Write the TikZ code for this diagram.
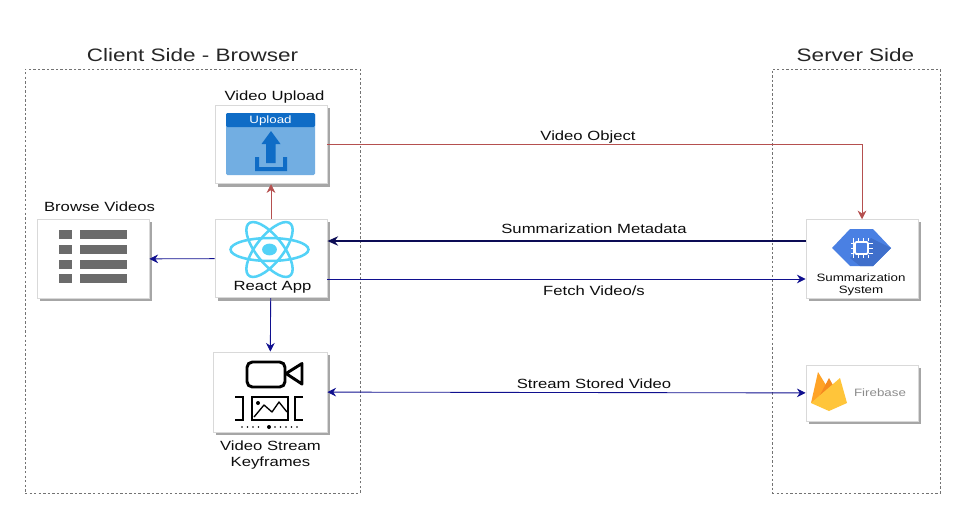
\documentclass[tikz,border=0pt]{standalone}
\usepackage{fontspec}
\setmainfont[FakeStretch=1.25]{Liberation Sans}
\usetikzlibrary{shadows,arrows.meta,calc}

\definecolor{redline}{HTML}{B5504F}
\definecolor{blueline}{HTML}{10108F}
\definecolor{darkline}{HTML}{0C0C55}
\definecolor{reactblue}{HTML}{53D2F7}
\definecolor{uploaddark}{HTML}{0F6CC6}
\definecolor{uploadlight}{HTML}{72AEE2}
\definecolor{hexblue}{HTML}{4A80E3}
\definecolor{hexdark}{HTML}{3F6FCB}
\definecolor{flameyellow}{HTML}{FFC53A}
\definecolor{flameamber}{HTML}{FFA326}
\definecolor{flameorange}{HTML}{F58A1F}

\tikzset{
  tile/.style={draw=black!15,fill=white,line width=.6pt,inner sep=0pt,
    drop shadow={shadow xshift=2pt,shadow yshift=-2pt,fill=black!35,opacity=1}},
  region/.style={draw=black!55,dash pattern=on 1.8pt off 1.6pt,line width=.5pt,inner sep=0pt},
  heading/.style={font=\fontsize{13.5}{15}\selectfont,text=black!85,inner sep=0pt},
  caption/.style={font=\fontsize{10}{12}\selectfont,text=black!95,inner sep=0pt,align=center},
  flowred/.style={draw=redline,line width=.55pt,-{Stealth[length=6.5pt,width=6.5pt]}},
  flowblue/.style={draw=blueline,line width=.65pt,-{Stealth[length=6.5pt,width=6.5pt]}},
  flowdark/.style={draw=darkline,line width=1.3pt,-{Stealth[length=8pt,width=7pt]}},
  iconline/.style={draw=black,line width=2.2pt,line join=round},
}

\begin{document}
\begin{tikzpicture}[x=.75pt,y=-.75pt]
\useasboundingbox (0,0) rectangle (973,519);

\draw (192.5,281) node(CLIENT)[region,minimum width=251.25pt,minimum height=318pt]{ };
\draw (856,281) node(SERVER)[region,minimum width=126pt,minimum height=318pt]{ };
\draw (192.5,55.5) node(CLIENTTXT)[heading]{Client Side - Browser};
\draw (855.5,55.5) node(SERVERTXT)[heading]{Server Side};

\draw (271,144.5) node(UPLOAD)[tile,minimum width=84pt,minimum height=59pt]{ };
\draw (271,258.5) node(REACT)[tile,minimum width=84pt,minimum height=59pt]{ };
\draw (270,392) node(FRAMES)[tile,minimum width=85.5pt,minimum height=60pt]{ };
\draw (93,259) node(BROWSE)[tile,minimum width=84pt,minimum height=59pt]{ };
\draw (862,259) node(SUMM)[tile,minimum width=84pt,minimum height=59pt]{ };
\draw (862,393) node(FIRE)[tile,minimum width=84pt,minimum height=42pt]{ };

\draw (274.5,97.5) node(UPLOADTXT)[caption]{Video Upload};
\draw (99.5,206.5) node(BROWSETXT)[caption]{Browse Videos};
\draw (272.5,287.5) node(REACTTXT)[caption]{React App};
\draw (270.5,455.5) node(FRAMESTXT)[caption]{Video Stream\\Keyframes};
\draw (861,284.5) node(SUMMTXT)[caption,font=\fontsize{8}{9}\selectfont]{Summarization\\System};
\draw (880,392.5) node(FIRETXT)[caption,font=\fontsize{8}{10}\selectfont,text=black!45]{Firebase};

% upload icon
\fill[uploadlight,rounded corners=1pt] (226,113) rectangle (315,175);
\fill[uploaddark,rounded corners=1pt] (226,113) rectangle (315,127);
\draw (270.5,120.5) node(UPLOADBTN)[font=\fontsize{8}{10}\selectfont,text=white,inner sep=0pt]{Upload};
\fill[uploaddark] (271,131) -- (280.5,144) -- (275.5,144) -- (275.5,163) -- (266,163) -- (266,144) -- (261.5,144) -- cycle;
\fill[uploaddark] (255,157) -- (259,157) -- (259,167) -- (283,167) -- (283,157) -- (287,157) -- (287,171) -- (255,171) -- cycle;

% react icon
\begin{scope}[shift={(269.5,249.5)},xscale=39,yscale=31]
\foreach \ang in {0,60,120}
  \draw[reactblue,line width=1.9pt,rotate=\ang] (0,0) ellipse [x radius=1,y radius=.37];
\fill[reactblue] (0,0) ellipse [x radius=.19,y radius=.19];
\end{scope}

% list icon
\foreach \rowy in {234,249,264,278} {
  \fill[black!58] (59,\rowy-4.5) rectangle (72,\rowy+4.5);
  \fill[black!58] (80,\rowy-4.5) rectangle (127,\rowy+4.5);
}

% camera and keyframes icon
\draw[iconline,rounded corners=4pt] (247,362) rectangle (285,387);
\draw[iconline] (286,373.5) -- (302,363.5) -- (302,384) -- cycle;
\draw[draw=black,line width=1pt] (252,397) rectangle (288,420);
\draw[draw=black,line width=1pt,line join=round] (254,417) -- (264,405) -- (272,412) -- (279,402) -- (287,412);
\fill (258,403) circle [radius=2];
\draw[draw=black,line width=1.2pt] (235,397) -- (243,397) -- (243,420) -- (235,420);
\draw[draw=black,line width=1.2pt] (303,397) -- (295,397) -- (295,420) -- (303,420);
\foreach \dotx in {242,247.5,253,258.5,275,280.5,286,291.5,297}
  \fill (\dotx,427) circle [radius=.8];
\fill (269,427) circle [radius=2];

% hexagon icon
\fill[hexblue] (832,248) -- (850,229) -- (873,229) -- (891,248) -- (873,266) -- (850,266) -- cycle;
\fill[hexdark] (871,238) -- (891,248) -- (873,266) -- (860,266) -- (850,258) -- cycle;
\foreach \pinx in {853,858,863,868} {
  \draw[white,line width=.7pt] (\pinx+.5,238) -- (\pinx+.5,258);
}
\foreach \piny in {243,248,253} {
  \draw[white,line width=.7pt] (851,\piny) -- (873,\piny);
}
\fill[hexblue] (854,241) rectangle (869,255);
\draw[white,line width=1.3pt,rounded corners=1pt] (855,242) rectangle (868,254);

% flame icon
\fill[flameamber] (811,403) -- (818,372) -- (832,395) -- cycle;
\fill[flameorange] (820,395) -- (829,378) -- (843,403) -- (826,403) -- cycle;
\fill[flameyellow] (811,403) -- (840,378) -- (847,403) -- (829,411) -- cycle;

\draw[flowred] (UPLOAD.east) -| (SUMM.north);
\draw[flowred] (REACT) -- (UPLOAD);
\draw[flowblue] (REACT) -- (BROWSE);
\draw[flowblue] (REACT) -- (FRAMES);
\draw[flowdark] ($(SUMM.west)+(0,-18)$) -- ($(REACT.east)+(0,-17.5)$);
\draw[flowblue] ($(REACT.east)+(0,20.5)$) -- ($(SUMM.west)+(0,20)$);
\draw[flowblue,{Stealth[length=6.5pt,width=6.5pt]}-{Stealth[length=6.5pt,width=6.5pt]}] (FRAMES) -- (FIRE);

\draw (588,137) node(OBJTXT)[caption]{Video Object};
\draw (594,228.5) node(METATXT)[caption]{Summarization Metadata};
\draw (594,290.5) node(FETCHTXT)[caption]{Fetch Video/s};
\draw (594,383.5) node(STREAMTXT)[caption]{Stream Stored Video};

\end{tikzpicture}
\end{document}
